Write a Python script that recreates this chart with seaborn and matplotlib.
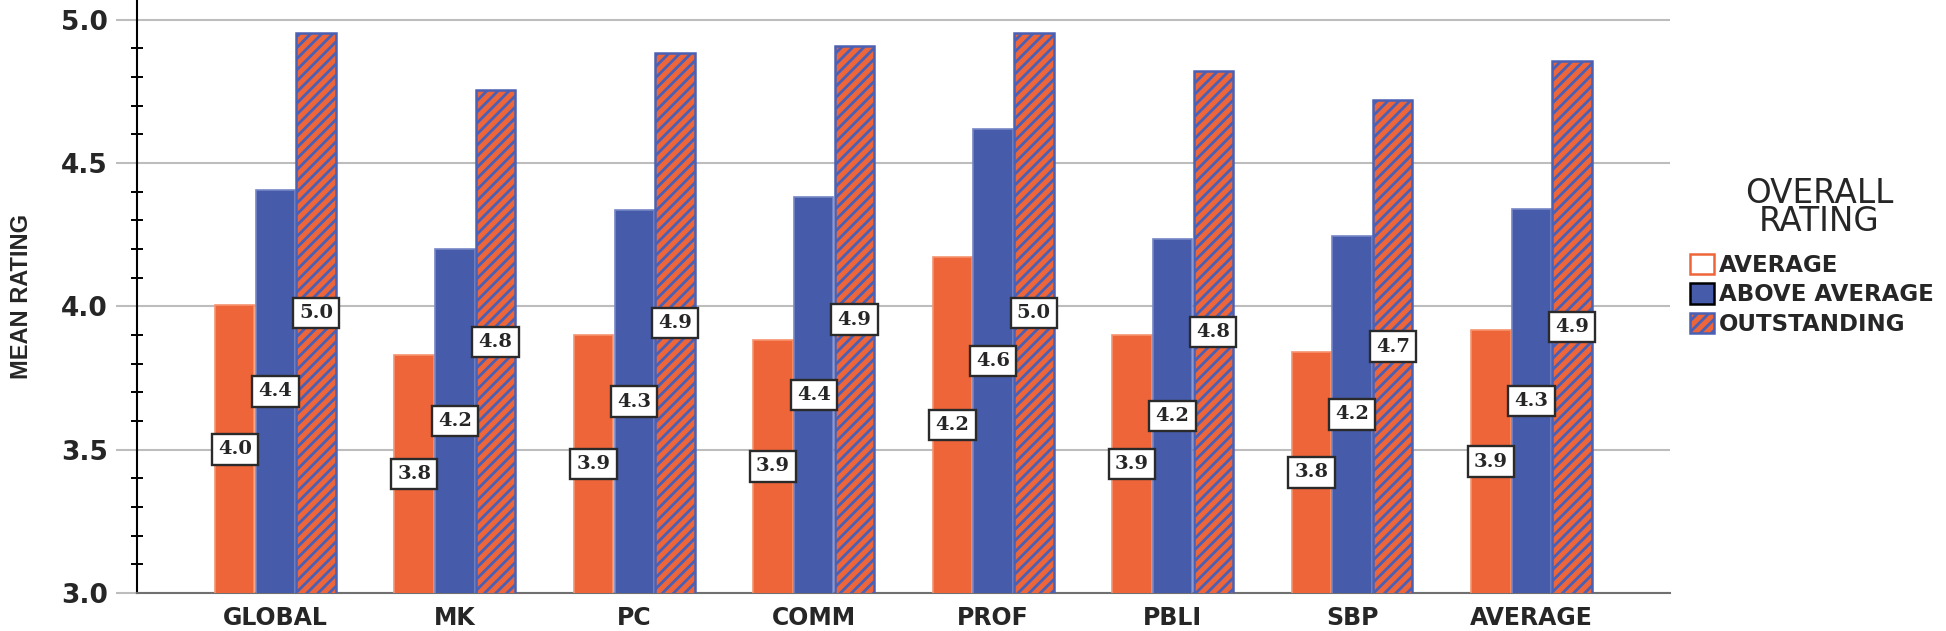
import numpy as np
import pandas as pd
import matplotlib
matplotlib.use("Agg")
import matplotlib.pyplot as plt
from matplotlib.patches import Patch
from matplotlib.ticker import MultipleLocator, FormatStrFormatter
import seaborn as sns

# data
domains = ["GLOBAL", "MK", "PC", "COMM", "PROF", "PBLI", "SBP", "AVERAGE"]
ratings = ["AVERAGE", "ABOVE AVERAGE", "OUTSTANDING"]
average = [4.003, 3.832, 3.900, 3.884, 4.172, 3.900, 3.842, 3.917]
above_average = [4.407, 4.200, 4.335, 4.381, 4.617, 4.235, 4.246, 4.339]
outstanding = [4.952, 4.753, 4.884, 4.907, 4.952, 4.822, 4.719, 4.855]

orange = "#EE6539"
blue = "#465BAA"
hatch_blue = "#4A60B4"

df = pd.DataFrame({
    "domain": domains * 3,
    "rating": [ratings[0]] * 8 + [ratings[1]] * 8 + [ratings[2]] * 8,
    "mean": average + above_average + outstanding,
})

sns.set_theme(style="white")
plt.rcParams["font.family"] = ["DejaVu Sans"]
plt.rcParams["hatch.linewidth"] = 2.0

fig, ax = plt.subplots(figsize=(19.46, 6.31), dpi=100)
fig.subplots_adjust(left=0.0705, right=0.858, bottom=0.060, top=0.999)

sns.barplot(data=df, x="domain", y="mean", hue="rating", hue_order=ratings,
            palette=[orange, blue, orange], saturation=1, width=0.68, gap=0.03,
            ax=ax, legend=False, zorder=3)

edge_cols = ["#F6936F", "#7586C6", hatch_blue]
for i, cont in enumerate(ax.containers):
    for bar in cont:
        bar.set_edgecolor(edge_cols[i])
        bar.set_linewidth(1.2)
        if i == 2:
            bar.set_hatch("///")
            bar.set_linewidth(1.8)

ymin = 3.0
ax.set_ylim(ymin, 5.066)
ax.set_xlim(-0.77, 7.77)

# value labels sit in the middle of the visible bar
for cont in ax.containers:
    for bar in cont:
        v = bar.get_height()
        xc = bar.get_x() + bar.get_width() / 2
        ax.text(xc, (ymin + v) / 2, f"{v:.1f}", ha="center", va="center",
                fontsize=14, fontweight="bold", family="DejaVu Serif", zorder=5,
                bbox=dict(boxstyle="square,pad=0.32", fc="white", ec="#2a2a2a", lw=1.7))

ax.yaxis.set_major_locator(MultipleLocator(0.5))
ax.yaxis.set_minor_locator(MultipleLocator(0.1))
ax.yaxis.set_major_formatter(FormatStrFormatter("%.1f"))
ax.grid(axis="y", which="major", color="#BDBDBD", lw=1.5, zorder=0)
ax.set_axisbelow(True)
ax.tick_params(axis="y", which="major", left=True, direction="out", length=15,
               width=1.5, color="#BDBDBD", labelsize=19, pad=6)
ax.tick_params(axis="y", which="minor", left=True, direction="inout", length=8,
               width=1.4, color="black")
ax.tick_params(axis="x", bottom=False, labelsize=17, pad=3)
for lab in ax.get_yticklabels() + ax.get_xticklabels():
    lab.set_fontweight("bold")

sns.despine(ax=ax)
ax.spines["left"].set_color("black")
ax.spines["left"].set_linewidth(1.5)
ax.spines["bottom"].set_color("#707070")
ax.spines["bottom"].set_linewidth(1.5)

ax.set_xlabel("")
ax.set_ylabel("MEAN RATING", fontsize=17, labelpad=20, fontweight="bold",
              family=["Liberation Sans", "DejaVu Sans"])

fig.text(0.9347, 0.671, "OVERALL\nRATING", ha="center", va="center",
         fontsize=23.5, linespacing=0.82)
handles = [
    Patch(facecolor="white", edgecolor=orange, lw=1.8, label=ratings[0]),
    Patch(facecolor=blue, edgecolor="black", lw=1.8, label=ratings[1]),
    Patch(facecolor=orange, edgecolor=hatch_blue, hatch="///", lw=1.8, label=ratings[2]),
]
leg = fig.legend(handles=handles, loc="upper left", bbox_to_anchor=(0.8685, 0.598),
                 frameon=False, handlelength=1.05, handleheight=1.0,
                 handletextpad=0.2, labelspacing=0.28, borderaxespad=0, borderpad=0,
                 prop={"size": 16.5, "weight": "bold"})

fig.savefig("out.png", dpi=100)
